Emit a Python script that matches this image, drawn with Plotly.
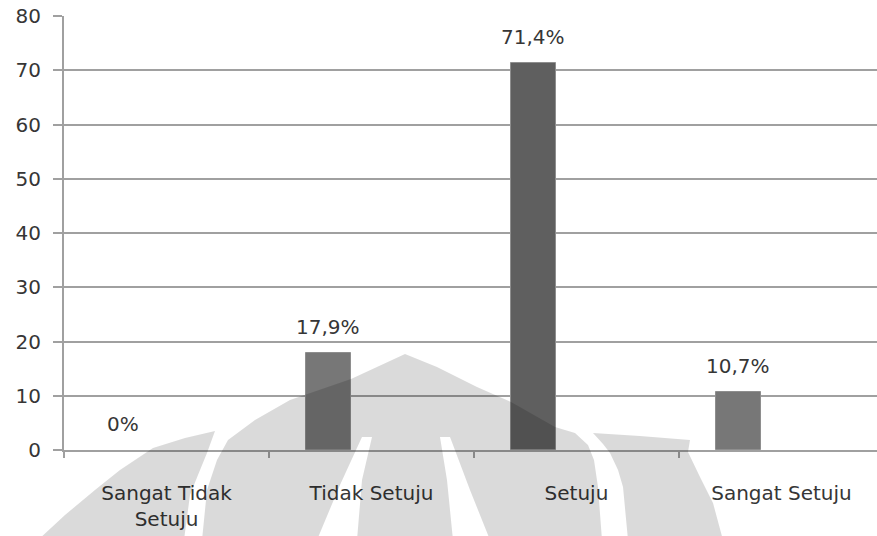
import plotly.graph_objects as go

# Survey response categories and the share of respondents (percent)
categories = ["Sangat Tidak Setuju", "Tidak Setuju", "Setuju", "Sangat Setuju"]
tick_labels = ["Sangat Tidak<br>Setuju", "Tidak Setuju", "Setuju", "Sangat Setuju"]
percentages = [0.0, 17.9, 71.4, 10.7]
bar_colors = ["#777777", "#777777", "#5f5f5f", "#777777"]
y_ticks = [0, 10, 20, 30, 40, 50, 60, 70, 80]

FONT = "DejaVu Sans"
TEXT = "#363636"
GRID = "#a0a0a0"

W, H = 877, 536
ML, MR, MT, MB = 64, 0, 16, 86

BAR_OFFSET = -0.32
BAR_WIDTH = 0.22


def pct_label(v):
    if v == 0:
        return "0%"
    return f"{v:.1f}".replace(".", ",") + "%"


fig = go.Figure()
fig.add_trace(
    go.Bar(
        x=categories,
        y=percentages,
        offset=BAR_OFFSET,
        width=BAR_WIDTH,
        marker=dict(
            color=bar_colors,
            line=dict(color="#8e8e8e", width=[0 if v == 0 else 1 for v in percentages]),
        ),
        showlegend=False,
        hoverinfo="x+y",
    )
)

# Value labels above each bar
for i, v in enumerate(percentages):
    fig.add_annotation(
        x=i + BAR_OFFSET + BAR_WIDTH / 2,
        y=v,
        xref="x",
        yref="y",
        text=pct_label(v),
        showarrow=False,
        yanchor="middle",
        yshift=26,
        font=dict(family=FONT, size=20, color=TEXT),
    )

# Faint emblem watermark lying over the lower part of the chart (page pixels)
plot_w = W - ML - MR
plot_h = H - MT - MB


def to_paper(pts):
    out = []
    for k, (px, py) in enumerate(pts):
        xp = (px - ML) / plot_w
        yp = (H - MB - py) / plot_h
        out.append(("M" if k == 0 else "L") + f"{xp:.5f},{yp:.5f}")
    return " ".join(out) + " Z"


emblem_parts = [
    # left wing
    [(38, 540), (65, 515), (95, 490), (120, 470), (153, 448), (185, 438),
     (215, 431), (207, 453), (198, 475), (190, 495), (184, 540)],
    # central arch with the two cut-out strokes
    [(202, 540), (207, 490), (217, 460), (228, 440), (255, 420), (290, 400),
     (351, 379), (405, 354), (437, 367), (477, 387), (511, 402), (555, 427),
     (575, 433), (588, 445), (594, 460), (598, 487), (602, 540),
     (490, 540), (470, 490), (450, 437), (440, 437), (447, 480), (453, 540),
     (357, 540), (362, 480), (372, 437), (362, 437), (340, 485), (317, 540)],
    # right wing
    [(593, 433), (640, 436), (690, 440), (688, 452), (700, 477), (713, 503),
     (723, 540), (628, 540), (623, 487), (618, 470), (610, 453), (603, 444)],
]

for part in emblem_parts:
    fig.add_shape(
        type="path",
        path=to_paper(part),
        xref="paper",
        yref="paper",
        fillcolor="rgba(0,0,0,0.145)",
        line=dict(width=0),
        layer="above",
    )

fig.update_layout(
    width=W,
    height=H,
    margin=dict(l=ML, r=MR, t=MT, b=MB, pad=0),
    paper_bgcolor="white",
    plot_bgcolor="white",
    bargap=0,
    font=dict(family=FONT, size=20, color=TEXT),
    showlegend=False,
)

fig.update_xaxes(
    type="category",
    categoryorder="array",
    categoryarray=categories,
    tickmode="array",
    tickvals=categories,
    ticktext=tick_labels,
    range=[-0.5, 3.466],
    tickson="boundaries",
    ticks="outside",
    ticklen=6,
    tickwidth=2,
    tickcolor=GRID,
    showline=True,
    linecolor=GRID,
    linewidth=2,
    showgrid=False,
    zeroline=False,
    ticklabelstandoff=24,
    tickfont=dict(family=FONT, size=20, color=TEXT),
)

fig.update_yaxes(
    range=[0, 80],
    tickmode="array",
    tickvals=y_ticks,
    ticks="outside",
    ticklen=9,
    tickwidth=2,
    tickcolor=GRID,
    showline=True,
    linecolor=GRID,
    linewidth=2,
    showgrid=True,
    gridcolor=GRID,
    gridwidth=2,
    zeroline=False,
    ticklabelstandoff=8,
    tickfont=dict(family=FONT, size=20, color=TEXT),
)

fig.write_html("out.html")
